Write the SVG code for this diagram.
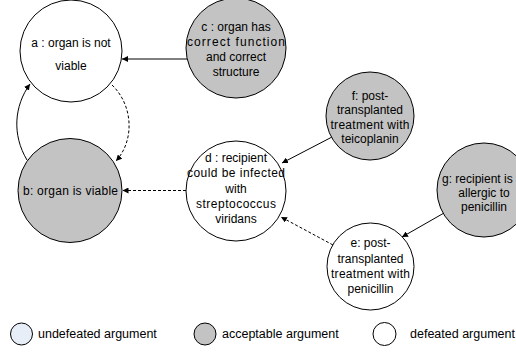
<svg xmlns="http://www.w3.org/2000/svg" width="516" height="354" viewBox="0 0 516 354">
<style>
.n{stroke:#000;stroke-width:1}
.acc{fill:#c3c3c3}
.def{fill:#fff}
.und{fill:#e8eef8}
text{font-family:"Liberation Sans",Arial,sans-serif;font-size:12px;fill:#000;text-anchor:middle}
.lg{text-anchor:start;font-size:12.5px}
.e{fill:none;stroke:#000;stroke-width:1}
.d{stroke-dasharray:3,2}
</style>
<defs>
<marker id="ah" markerUnits="userSpaceOnUse" markerWidth="7" markerHeight="6" refX="6" refY="3" orient="auto">
<path d="M0,0 L6,3 L0,6 z" fill="#000"/>
</marker>
</defs>
<rect width="516" height="354" fill="#fff"/>
<g id="connectors">
<line class="e" x1="187" y1="59" x2="122" y2="59" stroke="#444" stroke-width="1.3" marker-end="url(#ah)"/>
<path class="e" d="M27,160 C12,135 14,106 30,84" marker-end="url(#ah)"/>
<path class="e d" d="M112,85 C133,105 135,140 116,161" marker-end="url(#ah)"/>
<line class="e d" x1="186" y1="190.5" x2="122.5" y2="190.5" marker-end="url(#ah)"/>
<line class="e" x1="332" y1="137" x2="282" y2="163" marker-end="url(#ah)"/>
<line class="e d" x1="333" y1="245" x2="281" y2="217" marker-end="url(#ah)"/>
<line class="e" x1="444" y1="213" x2="402" y2="237" marker-end="url(#ah)"/>
</g>
<g id="node-a">
<circle class="n def" cx="71" cy="51" r="51"/>
<text x="71" y="47">a : organ is not</text>
<text x="71" y="70">viable</text>
</g>
<g id="node-c">
<circle class="n acc" cx="236" cy="48" r="50"/>
<text x="236" y="31">c : organ has</text>
<text x="236" y="46" textLength="98" lengthAdjust="spacing">correct function</text>
<text x="236" y="61">and correct</text>
<text x="236" y="76">structure</text>
</g>
<g id="node-b">
<circle class="n acc" cx="70" cy="190.5" r="52"/>
<text x="70.5" y="194.5" textLength="95" lengthAdjust="spacing">b: organ is viable</text>
</g>
<g id="node-d">
<circle class="n def" cx="236" cy="191" r="50"/>
<text x="236" y="161.5">d : recipient</text>
<text x="236" y="177" textLength="98" lengthAdjust="spacing">could be infected</text>
<text x="236" y="192.5">with</text>
<text x="236" y="207.5" textLength="80" lengthAdjust="spacing">streptococcus</text>
<text x="236" y="223">viridans</text>
</g>
<g id="node-f">
<circle class="n acc" cx="370" cy="116" r="44"/>
<text x="370" y="99.5">f: post-</text>
<text x="370" y="114">transplanted</text>
<text x="370" y="128.5" textLength="79" lengthAdjust="spacing">treatment with</text>
<text x="370" y="143">teicoplanin</text>
</g>
<g id="node-g">
<circle class="n acc" cx="484" cy="190" r="47"/>
<text x="442" y="182.5" style="text-anchor:start">g: recipient is</text>
<text x="484" y="197">allergic to</text>
<text x="484" y="211">penicillin</text>
</g>
<g id="node-e">
<circle class="n def" cx="370.5" cy="266.5" r="43.5"/>
<text x="370.5" y="247">e: post-</text>
<text x="370.5" y="262.5">transplanted</text>
<text x="370.5" y="277.5" textLength="79" lengthAdjust="spacing">treatment with</text>
<text x="370.5" y="292.5">penicillin</text>
</g>
<g id="legend">
<circle class="n und" cx="21.5" cy="334" r="11"/>
<text class="lg" x="38" y="338">undefeated argument</text>
<circle class="n acc" cx="205" cy="334" r="11"/>
<text class="lg" x="222" y="338">acceptable argument</text>
<circle class="n def" cx="384.5" cy="334" r="11.5"/>
<text class="lg" x="410" y="338">defeated argument</text>
</g>
</svg>
